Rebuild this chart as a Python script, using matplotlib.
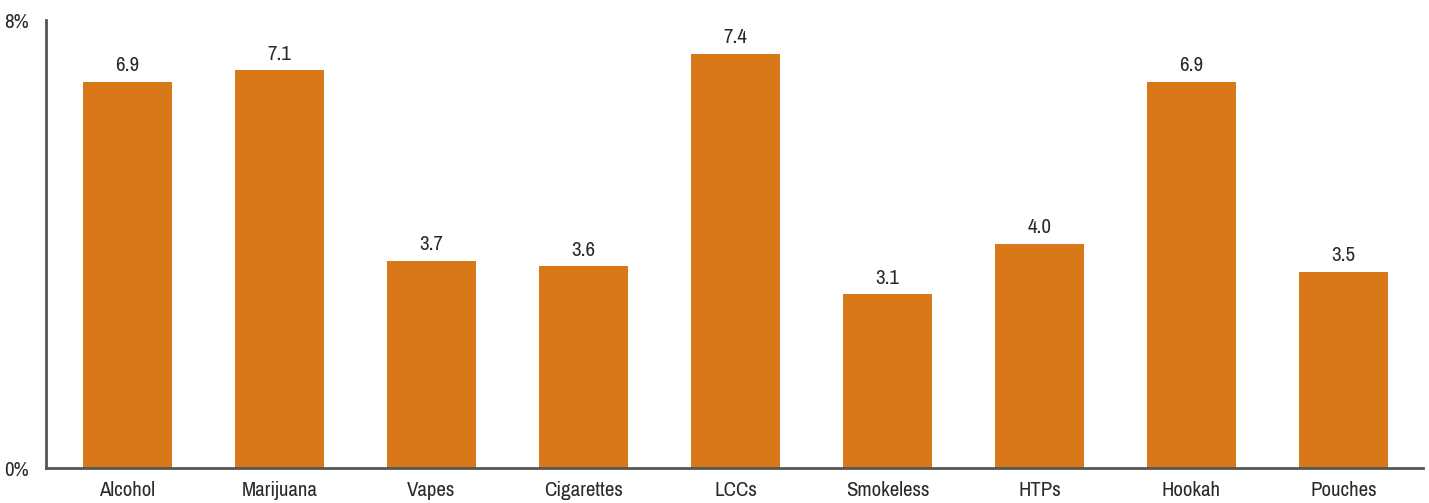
import matplotlib.pyplot as plt
from matplotlib import font_manager

# data
categories = ['Alcohol', 'Marijuana', 'Vapes', 'Cigarettes', 'LCCs',
              'Smokeless', 'HTPs', 'Hookah', 'Pouches']
values = [6.9, 7.1, 3.7, 3.6, 7.4, 3.1, 4.0, 6.9, 3.5]

names = sorted({f.name for f in font_manager.fontManager.ttflist})
cond = [n for n in names if 'Narrow' in n or 'Condensed' in n]
plt.rcParams['font.family'] = cond[:1] + ['DejaVu Sans'] if cond else ['DejaVu Sans']
plt.rcParams['font.stretch'] = 'condensed'

fig = plt.figure(figsize=(14.29, 5.03), dpi=100)
ax = fig.add_axes([46/1429, 35/503, (1423-46)/1429, (468-20)/503])

x = range(len(categories))
ax.bar(x, values, width=0.585, color='#D97819')
for xi, v in zip(x, values):
    ax.text(xi, v + 0.12, f'{v:.1f}', ha='center', va='bottom', fontsize=15, color='#2a2a2a')

ax.set_xlim(-0.536, 8.523)
ax.set_ylim(0, 8)
ax.set_yticks([0, 8])
ax.set_yticklabels(['0%', '8%'], fontsize=15, color='#2a2a2a')
ax.set_xticks(list(x))
ax.set_xticklabels(categories, fontsize=15, color='#2a2a2a')
ax.tick_params(length=0, pad=9)
ax.tick_params(axis='y', pad=12)

for s in ['top', 'right']:
    ax.spines[s].set_visible(False)
for s in ['left', 'bottom']:
    ax.spines[s].set_color('#555555')
    ax.spines[s].set_linewidth(2)

fig.savefig('out.png', dpi=100)
